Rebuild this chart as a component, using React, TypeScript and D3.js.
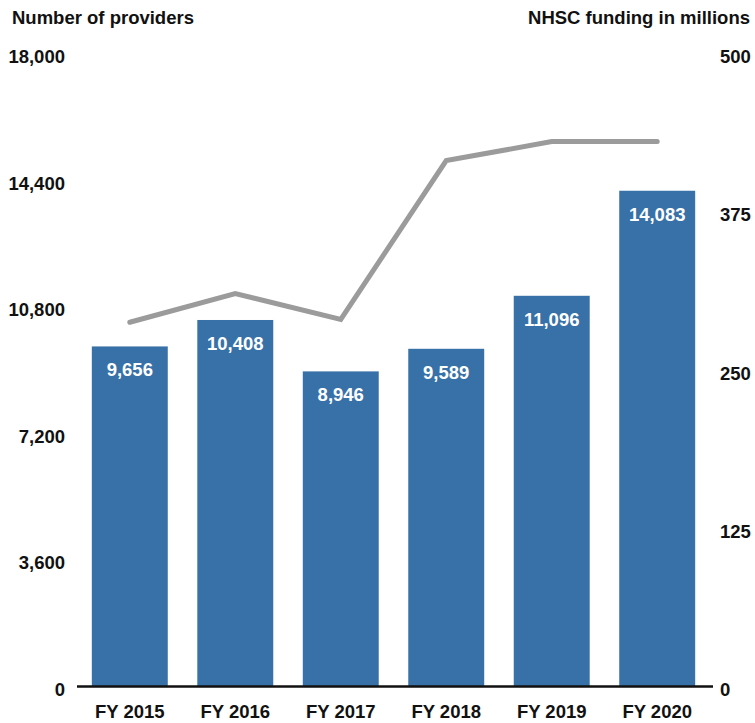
import React from "react";
import * as d3 from "d3";

const categories = ["FY 2015", "FY 2016", "FY 2017", "FY 2018", "FY 2019", "FY 2020"];
const providers = [9656, 10408, 8946, 9589, 11096, 14083];
const funding = [287.3, 310, 289.6, 415, 430, 430];
const leftTicks = [0, 3600, 7200, 10800, 14400, 18000];
const rightTicks = [0, 125, 250, 375, 500];

const W = 755;
const H = 723;
const font = "'Liberation Sans', Arial, sans-serif";

export default function App() {
  const x = d3.scaleBand<string>().domain(categories).range([76, 711]).paddingInner(0.28).paddingOuter(0.15);
  const yL = d3.scaleLinear().domain([0, 18000]).range([686, 53]);
  const yR = d3.scaleLinear().domain([0, 500]).range([686, 53]);
  const fmt = d3.format(",");
  const line = d3
    .line<number>()
    .x((_, i) => (x(categories[i]) as number) + x.bandwidth() / 2)
    .y((d) => yR(d));

  return (
    <svg width={W} height={H} style={{ position: "absolute", left: 0, top: 0, background: "#fff" }} fontFamily={font}>
      <text x={12} y={24} fontSize={18.5} fontWeight="bold" fill="#111">Number of providers</text>
      <text x={750} y={24} fontSize={18.5} fontWeight="bold" fill="#111" textAnchor="end">NHSC funding in millions</text>
      {leftTicks.map((t) => (
        <text key={"l" + t} x={65} y={yL(t) + 10} fontSize={18.5} fontWeight="bold" fill="#111" textAnchor="end">{fmt(t)}</text>
      ))}
      {rightTicks.map((t) => (
        <text key={"r" + t} x={720} y={yR(t) + 10} fontSize={18.5} fontWeight="bold" fill="#111" textAnchor="start">{t}</text>
      ))}
      {categories.map((c, i) => (
        <g key={c}>
          <rect x={x(c)} y={yL(providers[i])} width={x.bandwidth()} height={yL(0) - yL(providers[i])} fill="#3871a7" />
          <text x={(x(c) as number) + x.bandwidth() / 2} y={yL(providers[i]) + 30} fontSize={18.5} fontWeight="bold" fill="#fff" textAnchor="middle">{fmt(providers[i])}</text>
          <text x={(x(c) as number) + x.bandwidth() / 2} y={718} fontSize={18.5} fontWeight="bold" fill="#111" textAnchor="middle">{c}</text>
        </g>
      ))}
      <line x1={77} x2={713} y1={686.5} y2={686.5} stroke="#111" strokeWidth={2.5} />
      <path d={line(funding) || ""} fill="none" stroke="#9b9b9b" strokeWidth={5} strokeLinecap="round" strokeLinejoin="miter" />
    </svg>
  );
}
